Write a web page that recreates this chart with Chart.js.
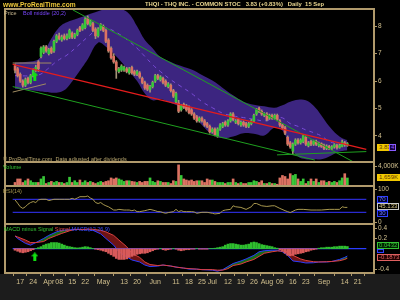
<!DOCTYPE html>
<html lang="en">
<head>
<meta charset="UTF-8">
<title>THQI - Daily</title>
<script src="https://cdn.jsdelivr.net/npm/chart.js"></script>
<style>
  body { margin:0; background:#000; width:400px; height:300px; overflow:hidden; position:relative;
         font-family:"Liberation Sans", Arial, sans-serif; }
  #chart { position:absolute; left:0; top:0; }
  .t { position:absolute; white-space:nowrap; font-size:5.5px; line-height:6px; }
  .box { position:absolute; white-space:nowrap; font-size:6px; line-height:5px; padding:0 1px; border:1px solid; }
</style>
</head>
<body>
<canvas id="chart" width="400" height="300"></canvas>

<div class="t" style="left:3px;top:1px;color:#efc93a;font-weight:bold;font-size:6.6px;line-height:7px">www.ProRealTime.com</div>
<div class="t" style="left:145px;top:1px;color:#e6d38e;font-weight:bold;font-size:5.9px;line-height:7px">THQI - THQ INC. - COMMON STOC&nbsp;&nbsp; 3.83 (+0.83%)&nbsp;&nbsp; Daily&nbsp; 15 Sep</div>
<div class="t" style="left:4px;top:10px;color:#c8b890">Price</div>
<div class="t" style="left:23px;top:10px;color:#7a46ff">Boll middle (20,2)</div>
<div class="t" style="left:3px;top:156px;color:#b8a66e">© ProRealTime.com&nbsp; Data adjusted after dividends</div>
<div class="t" style="left:3px;top:164px;color:#34c234">Volume</div>
<div class="t" style="left:3px;top:188px;color:#a8984e">RSI(14)</div>
<div class="t" style="left:4px;top:226px"><span style="color:#34c234">MACD minus Signal</span> <span style="color:#e04848">Signal</span> <span style="color:#3a4cff">MACD(12,26,9)</span></div>

<div class="box" style="left:377px;top:144px;background:#f2c800;border-color:#f2c800;color:#5a3a00">3.83</div>
<div class="box" style="left:389px;top:144px;background:#1a0040;border-color:#8a5cff;color:#8a5cff;width:3px;overflow:hidden">4</div>
<div class="box" style="left:377px;top:174px;background:#f2c800;border-color:#f2c800;color:#5a3a00">1,659K</div>
<div class="box" style="left:377px;top:196px;background:#000028;border-color:#3040ff;color:#6a78ff">70</div>
<div class="box" style="left:377px;top:203px;background:#000;border-color:#c8c8c8;color:#d8c888">45.133</div>
<div class="box" style="left:377px;top:210px;background:#000028;border-color:#3040ff;color:#6a78ff">30</div>
<div class="box" style="left:377px;top:242px;background:#002000;border-color:#34c234;color:#34c234">0.0432</div>
<div class="box" style="left:377px;top:249px;background:#000028;border-color:#3040ff;color:#3040ff;width:3px;height:2px"></div>
<div class="box" style="left:377px;top:254px;background:#200000;border-color:#e06060;color:#e06060">-0.1873</div>

<script>
// ---- price candles, one per trading day (15 Mar .. 15 Sep) ----
const opens = [
  6.55,6.45,6.25,6.00,5.85,6.10,5.95,6.20,6.40,6.70, 6.90,7.05,7.25,7.00,7.20,7.10,7.45,7.65,7.50,7.65,
  7.55,7.60,7.75,7.60,7.70,7.95,7.90,7.95,8.30,8.05, 8.10,7.90,7.65,7.90,8.00,7.85,7.50,7.20,6.90,6.70,
  6.35,6.40,6.40,6.45,6.30,6.50,6.35,6.25,6.30,6.10, 5.95,5.85,5.70,5.80,6.00,6.20,6.05,6.10,6.00,5.80,
  5.85,5.65,5.25,5.20,4.95,5.15,5.10,5.05,4.95,4.80, 4.70,4.55,4.65,4.55,4.45,4.35,4.15,4.25,4.00,4.25,
  4.35,4.50,4.40,4.55,4.80,4.50,4.60,4.40,4.50,4.45, 4.35,4.45,4.55,4.80,5.00,4.90,4.75,4.80,4.65,4.75,
  4.65,4.75,4.55,4.40,4.30,3.95,3.75,3.45,3.70,3.85, 3.75,3.80,3.95,3.65,3.80,3.70,3.80,3.65,3.72,3.65,
  3.55,3.62,3.55,3.60,3.65,3.58,3.62,3.75,3.66
];
const highs = [
  6.62,6.50,6.30,6.05,6.12,6.15,6.25,6.45,6.58,6.75, 7.25,7.30,7.30,7.20,7.25,7.50,7.70,7.75,7.68,7.72,
  7.72,7.90,7.80,7.75,7.90,8.00,8.10,8.32,8.38,8.25, 8.15,7.95,7.95,8.10,8.05,7.90,7.55,7.25,7.00,6.75,
  6.50,6.60,6.55,6.50,6.50,6.55,6.40,6.40,6.35,6.15, 6.00,5.90,5.85,6.00,6.25,6.25,6.20,6.15,6.05,5.95,
  5.90,5.70,5.60,5.30,5.15,5.20,5.15,5.10,5.00,4.85, 4.75,4.70,4.70,4.60,4.50,4.40,4.30,4.30,4.30,4.45,
  4.50,4.55,4.60,4.85,4.85,4.60,4.65,4.55,4.55,4.50, 4.50,4.60,4.80,5.00,5.05,4.95,4.85,4.85,4.80,4.80,
  4.80,4.80,4.60,4.45,4.35,4.00,3.80,3.75,3.90,3.90, 3.90,4.05,4.00,3.80,3.85,3.85,3.85,3.78,3.75,3.70,
  3.68,3.66,3.65,3.72,3.70,3.70,3.85,3.80,3.76
];
const lows = [
  6.30,6.15,5.95,5.78,5.80,5.90,5.90,6.15,6.35,6.35, 6.85,7.00,7.05,6.95,7.00,7.05,7.40,7.50,7.45,7.50,
  7.50,7.55,7.55,7.55,7.65,7.80,7.85,7.90,8.05,8.00, 7.80,7.55,7.60,7.85,7.80,7.40,7.05,6.80,6.65,6.10,
  6.30,6.35,6.35,6.30,6.25,6.25,6.20,6.20,6.10,5.90, 5.70,5.65,5.60,5.75,5.95,6.05,6.00,5.90,5.80,5.75,
  5.60,5.40,5.20,4.85,4.90,5.00,4.90,4.80,4.75,4.60, 4.50,4.50,4.50,4.35,4.30,4.10,4.10,4.00,3.95,4.20,
  4.30,4.35,4.35,4.50,4.55,4.45,4.40,4.35,4.35,4.30, 4.30,4.40,4.50,4.75,4.85,4.75,4.70,4.55,4.60,4.60,
  4.60,4.55,4.35,4.25,4.05,3.65,3.55,3.33,3.65,3.70, 3.70,3.75,3.65,3.60,3.65,3.65,3.65,3.60,3.58,3.50,
  3.50,3.50,3.50,3.55,3.52,3.55,3.60,3.62,3.62
];
const closes = [
  6.40,6.20,6.00,5.85,6.05,5.95,6.20,6.40,6.50,6.45, 7.20,7.25,7.10,7.15,7.05,7.45,7.65,7.55,7.60,7.55,
  7.65,7.85,7.60,7.70,7.85,7.85,8.05,8.25,8.10,8.20, 7.85,7.65,7.90,8.05,7.85,7.45,7.10,6.85,6.70,6.40,
  6.45,6.55,6.50,6.35,6.45,6.30,6.25,6.35,6.15,5.95, 5.75,5.70,5.80,5.95,6.20,6.10,6.15,5.95,5.85,5.90,
  5.65,5.45,5.55,4.90,5.10,5.05,4.95,4.85,4.80,4.65, 4.55,4.65,4.55,4.40,4.35,4.15,4.25,4.05,4.25,4.40,
  4.45,4.40,4.55,4.80,4.60,4.55,4.45,4.50,4.40,4.35, 4.45,4.55,4.75,4.95,4.90,4.80,4.80,4.60,4.75,4.65,
  4.75,4.60,4.40,4.30,4.10,3.70,3.60,3.70,3.85,3.75, 3.85,4.00,3.70,3.75,3.70,3.80,3.70,3.72,3.62,3.55,
  3.62,3.55,3.60,3.68,3.58,3.65,3.78,3.68,3.72
];
// volume in thousands
const volumes = [
  730,1460,1460,730,1090,1460,1090,730,730,730, 1460,1970,510,730,950,730,950,730,730,510,
  730,1820,730,1090,730,1240,730,1090,730,950, 730,510,730,950,730,950,1090,1670,1460,1670,
  1460,1240,950,1090,1090,950,870,730,950,730, 950,950,1670,950,730,1090,950,730,730,730,
  510,1090,950,4370,2180,1460,1240,1090,1240,950, 1090,1090,1090,730,1460,1240,1240,950,730,730,
  730,510,730,730,1460,730,510,730,510,510, 730,730,1090,950,730,1090,510,510,730,510,
  510,360,1670,2180,1970,1460,2550,2180,2400,1460, 950,1460,510,950,1460,950,1460,730,1090,1090,
  730,950,730,950,730,1090,1670,2550,1659
];

// ---- Bollinger (20,2), read at sample days ----
const bbDays  = [0,4,8,10,12,14,16,18,20,24,28,32,35,38,41,44,47,50,53,56,60,64,68,72,76,80,84,88,92,96,100,103,106,109,112,115,118,121,124,126,128];
const bbUpper = [6.68,6.70,6.75,6.90,7.20,7.55,7.85,8.05,8.15,8.28,8.42,8.55,8.62,8.65,8.62,8.45,8.00,7.50,7.20,6.88,6.70,6.55,6.42,6.22,6.02,5.75,5.48,5.25,5.14,5.08,5.03,5.12,5.25,5.32,5.30,5.10,4.75,4.35,4.05,3.92,3.85];
const bbMid   = [6.20,6.19,6.20,6.26,6.40,6.56,6.72,6.84,6.95,7.27,7.61,7.90,7.94,7.83,7.66,7.45,7.20,6.90,6.60,6.35,6.05,5.80,5.55,5.25,5.03,4.83,4.73,4.67,4.61,4.55,4.64,4.66,4.45,4.35,4.22,4.12,4.00,3.80,3.72,3.68,3.66];
const bbLower = [5.72,5.68,5.65,5.62,5.60,5.58,5.58,5.62,5.75,6.25,6.80,7.40,7.25,7.00,6.70,6.35,6.00,5.55,5.30,5.35,5.20,5.05,4.85,4.40,4.05,3.92,3.98,4.10,4.08,4.02,4.30,4.20,3.60,3.25,3.15,3.15,3.15,3.25,3.40,3.45,3.48];

// ---- drawn trend lines (day, price) ----
const redTrend      = [[-0.9, 6.61], [135.3, 3.51]];
const greenTrendHi  = [[22.2, 8.60], [130.2, 3.06]];
const greenTrendLo  = [[-0.9, 5.80], [115.5, 3.12]];
const greenTrendEnd = [[100.9, 3.31], [135.3, 3.43]];
const tanFlat       = [[-0.9, 6.66], [14.0, 6.66]];
const tanRise       = [[-0.9, 5.60], [11.9, 5.90]];

// ---- RSI(14) ----
const rsiDays = [0,1,2,3,4,5,6,7,8,9,10,12,13,14,15,17,19,21,22,23,24,25,27,28,29,30,31,32,33,34,35,36,38,39,40,42,43,44,45,46,47,48,50,51,52,54,55,56,57,58,59,61,62,63,64,65,66,68,69,70,72,74,76,77,79,80,81,83,84,85,87,89,91,92,93,95,97,99,100,102,104,105,106,108,109,111,114,116,118,121,123,125,126,127,128];
const rsiVals = [68,58,47,42,47,55,60,63,60,68,70,70,66,68,70,70,70,70,73,70,74,78,78,80,74,70,60,57,60,54,50,47,37,37,39,37,37,37,35,37,32,32,35,37,39,35,32,32,29,27,29,32,39,32,35,32,32,32,31,27,30,30,27,25,27,35,37,39,50,47,45,39,47,57,57,50,48,50,50,42,35,32,29,37,39,39,37,37,37,39,39,39,47,45,45.13];
const rsiLevels = [70, 30];

// ---- MACD(12,26,9) ----
const macdDays = [0,1,4,6,8,11,13,16,18,21,23,26,28,30,33,35,38,40,43,45,48,50,52,55,57,60,62,65,67,70,72,76,78,80,82,84,87,89,92,94,96,99,101,103,105,107,110,112,115,117,120,122,125,127,128];
const macdVals = [0.25,0.20,0.105,0.07,0.12,0.20,0.26,0.33,0.36,0.37,0.375,0.38,0.37,0.36,0.29,0.20,0.07,-0.06,-0.16,-0.22,-0.26,-0.32,-0.35,-0.34,-0.32,-0.34,-0.36,-0.38,-0.40,-0.40,-0.41,-0.42,-0.44,-0.41,-0.35,-0.29,-0.24,-0.20,-0.13,-0.06,-0.04,-0.03,-0.03,-0.06,-0.13,-0.24,-0.26,-0.28,-0.275,-0.26,-0.26,-0.25,-0.21,-0.17,-0.144];
const signalVals = [0.25,0.23,0.17,0.12,0.12,0.14,0.20,0.26,0.30,0.35,0.38,0.375,0.385,0.38,0.36,0.33,0.26,0.17,0.04,-0.09,-0.17,-0.26,-0.31,-0.33,-0.32,-0.34,-0.36,-0.38,-0.39,-0.40,-0.41,-0.41,-0.42,-0.42,-0.39,-0.33,-0.30,-0.26,-0.21,-0.15,-0.09,-0.06,-0.045,-0.045,-0.06,-0.13,-0.20,-0.23,-0.255,-0.26,-0.255,-0.25,-0.235,-0.21,-0.187];
const histVals = [
  -0.03,-0.05,-0.07,-0.08,-0.07,-0.06,-0.04,-0.02,0.0,0.02, 0.04,0.07,0.09,0.10,0.12,0.12,0.12,0.11,0.09,0.07,
  0.05,0.04,0.03,0.02,0.015,0.02,0.03,0.04,0.035,0.02, 0.005,-0.01,-0.02,-0.03,-0.045,-0.06,-0.09,-0.12,-0.15,-0.19,
  -0.21,-0.21,-0.21,-0.20,-0.17,-0.15,-0.13,-0.11,-0.10,-0.09, -0.09,-0.08,-0.06,-0.04,-0.02,-0.01,0.005,-0.02,-0.03,-0.02,
  -0.01,0.005,-0.01,-0.03,-0.04,-0.03,-0.02,-0.02,-0.01,-0.01, 0.005,-0.01,-0.01,-0.01,-0.01,0.005,0.005,0.01,0.02,0.03,
  0.04,0.07,0.09,0.10,0.10,0.09,0.08,0.07,0.07,0.08, 0.09,0.12,0.13,0.12,0.10,0.08,0.07,0.06,0.05,0.04,
  0.02,0.01,-0.02,-0.05,-0.09,-0.13,-0.14,-0.13,-0.11,-0.10, -0.09,-0.08,-0.06,-0.05,-0.03,-0.02,-0.01,0.01,0.02,0.02,
  0.03,0.03,0.03,0.04,0.04,0.05,0.05,0.05,0.0432
];

// buy signal arrow (day, price, macd)
const buyArrow = {day: 7.6, price: 6.18, macd: -0.16};

// x axis: day index of each label
const tickDays   = [2,7,13,17,22,27,34,42,47,54,62,67,72,76,82,87,92,97,102,107,112,119,127,132];
const tickLabels = ['17','24','Apr','08','15','22','May','13','20','Jun','11','18','25','Jul','12','19','26','Aug','09','16','23','Sep','14','21'];

const priceTicks = [4,4.5,5,5.5,6,6.5,7,7.5,8,8.5];
const volTicks   = [4000];
const rsiTicks   = [0,100];
const macdTicks  = [-0.4,0.2,0.4];

const TAN = '#b09a6c';
const LABEL = '#d2c08e';
const GREEN = '#38c838';
const SALMON = '#dc7262';

// --- helpers ---
const pts = (days, vals) => days.map((d, k) => ({x: d, y: vals[k]}));
const seg = arr => arr.map(p => ({x: p[0], y: p[1]}));
const days = closes.map((c, i) => i);
const up = days.map(i => closes[i] >= opens[i]);

function arrowImg() {
  const c = document.createElement('canvas');
  c.width = 7; c.height = 9;
  const g = c.getContext('2d');
  g.fillStyle = '#12e012';
  g.beginPath();
  g.moveTo(3.5, 0); g.lineTo(7, 4); g.lineTo(5, 4); g.lineTo(5, 9);
  g.lineTo(2, 9); g.lineTo(2, 4); g.lineTo(0, 4); g.closePath(); g.fill();
  return c;
}
const arrow = arrowImg();

// each y scale clips its own datasets to its panel
const lineDs = (data, color, axis, extra) => Object.assign({
  type: 'line', data, yAxisID: axis, borderColor: color, borderWidth: 1,
  pointRadius: 0, fill: false, tension: 0, order: 5
}, extra || {});

const panelFrame = {
  id: 'panelFrame',
  beforeDraw(chart) {
    const {ctx, chartArea: a} = chart;
    ctx.save();
    ctx.fillStyle = '#1c1c1c';
    ctx.fillRect(0, a.bottom + 1, chart.width, chart.height - a.bottom);
    ctx.restore();
  },
  afterDraw(chart) {
    const {ctx, chartArea: a, scales} = chart;
    ctx.save();
    ctx.strokeStyle = TAN;
    ctx.lineWidth = 2;
    ['yPrice', 'yVol', 'yRsi', 'yMacd'].forEach(id => {
      const s = scales[id];
      ctx.strokeRect(a.left, s.top, a.right - a.left, s.bottom - s.top);
    });
    ctx.restore();
  }
};

Chart.defaults.font.family = '"Liberation Sans", Arial, sans-serif';
Chart.defaults.font.size = 7;
Chart.defaults.color = LABEL;

const yAxis = (weight, min, max, ticks, fmt) => ({
  type: 'linear', position: 'right', stack: 'panels', stackWeight: weight, min, max,
  afterBuildTicks: s => { s.ticks = ticks.map(v => ({value: v})); },
  afterFit: s => { s.width = 26; },
  grid: {drawOnChartArea: false, drawTicks: true, tickLength: 3, color: TAN},
  border: {display: true, color: TAN, width: 1},
  ticks: {padding: 1, color: LABEL, font: {size: 6.5}, callback: fmt || (v => v)}
});

new Chart(document.getElementById('chart'), {
  data: {
    datasets: [
      // Bollinger band
      lineDs(pts(bbDays, bbUpper), 'rgba(0,0,0,0)', 'yPrice',
        {borderWidth: 0, fill: '+1', backgroundColor: '#3c2580', tension: 0.4, order: 30}),
      lineDs(pts(bbDays, bbLower), 'rgba(0,0,0,0)', 'yPrice', {borderWidth: 0, tension: 0.4, order: 29}),
      lineDs(pts(bbDays, bbMid), '#7a4ad8', 'yPrice', {borderDash: [4, 4], tension: 0.4, order: 28}),
      lineDs(seg(tanFlat), '#a08c62', 'yPrice', {order: 27}),
      lineDs(seg(tanRise), '#a08c62', 'yPrice', {order: 27}),
      // candles
      {type: 'bar', yAxisID: 'yPrice', order: 20, grouped: false,
        data: days.map(i => ({x: i, y: [lows[i], highs[i]]})),
        backgroundColor: '#a49478', barThickness: 1},
      {type: 'bar', yAxisID: 'yPrice', order: 19, grouped: false,
        data: days.map(i => ({x: i, y: [opens[i], closes[i]]})),
        backgroundColor: days.map(i => up[i] ? GREEN : SALMON), barThickness: 2},
      // trend lines
      lineDs(seg(redTrend), '#e41c1c', 'yPrice', {borderWidth: 1.3}),
      lineDs(seg(greenTrendHi), '#1fa01f', 'yPrice'),
      lineDs(seg(greenTrendLo), '#1fa01f', 'yPrice'),
      lineDs(seg(greenTrendEnd), '#1fa01f', 'yPrice'),
      {type: 'scatter', yAxisID: 'yPrice', order: 1,
        data: [{x: buyArrow.day, y: buyArrow.price}], pointStyle: arrow, pointRadius: 4},
      // volume
      {type: 'bar', yAxisID: 'yVol', order: 10, grouped: false,
        data: days.map(i => ({x: i, y: volumes[i]})),
        backgroundColor: days.map(i => up[i] ? GREEN : SALMON), barThickness: 2},
      // RSI
      lineDs(seg([[-0.9, rsiLevels[0]], [135.3, rsiLevels[0]]]), '#2a2ad0', 'yRsi', {borderWidth: 1.3}),
      lineDs(seg([[-0.9, rsiLevels[1]], [135.3, rsiLevels[1]]]), '#2a2ad0', 'yRsi', {borderWidth: 1.3}),
      lineDs(pts(rsiDays, rsiVals), '#a8984e', 'yRsi', {order: 4}),
      // MACD (dataset 16 fills to signal, dataset 17)
      lineDs(pts(macdDays, macdVals), '#2a3cff', 'yMacd',
        {fill: {target: 17, above: '#17691a', below: '#6e1414'}, order: 12}),
      lineDs(pts(macdDays, signalVals), '#e04040', 'yMacd', {order: 11}),
      lineDs(seg([[-0.9, 0], [135.3, 0]]), '#2a3cff', 'yMacd', {borderWidth: 1.3, order: 9}),
      {type: 'bar', yAxisID: 'yMacd', order: 8, grouped: false,
        data: days.map(i => ({x: i, y: histVals[i]})),
        backgroundColor: days.map(i => histVals[i] >= 0 ? '#2fbf2f' : '#d85a5a'), barThickness: 2},
      {type: 'scatter', yAxisID: 'yMacd', order: 1,
        data: [{x: buyArrow.day, y: buyArrow.macd}], pointStyle: arrow, pointRadius: 4}
    ]
  },
  options: {
    responsive: false,
    animation: false,
    devicePixelRatio: 1,
    layout: {padding: {left: 2, top: 9, right: 0, bottom: 0}},
    plugins: {legend: {display: false}, tooltip: {enabled: false}},
    scales: {
      x: {
        type: 'linear', position: 'bottom', min: -0.9, max: 135.3,
        afterBuildTicks: s => { s.ticks = tickDays.map(v => ({value: v})); },
        afterFit: s => { s.height = 27; },
        grid: {drawOnChartArea: false, drawTicks: true, tickLength: 3, color: TAN},
        border: {display: true, color: TAN, width: 2},
        ticks: {autoSkip: false, maxRotation: 0, padding: 2, color: LABEL,
          callback: (v, i) => tickLabels[i]}
      },
      yPrice: yAxis(153, 3.05, 8.63, priceTicks),
      yVol: yAxis(24, 0, 4970, volTicks, v => v.toLocaleString('en-US') + 'K'),
      yRsi: yAxis(38, -6, 110.9, rsiTicks),
      yMacd: yAxis(49, -0.476, 0.484, macdTicks)
    }
  },
  plugins: [panelFrame]
});
</script>
</body>
</html>
